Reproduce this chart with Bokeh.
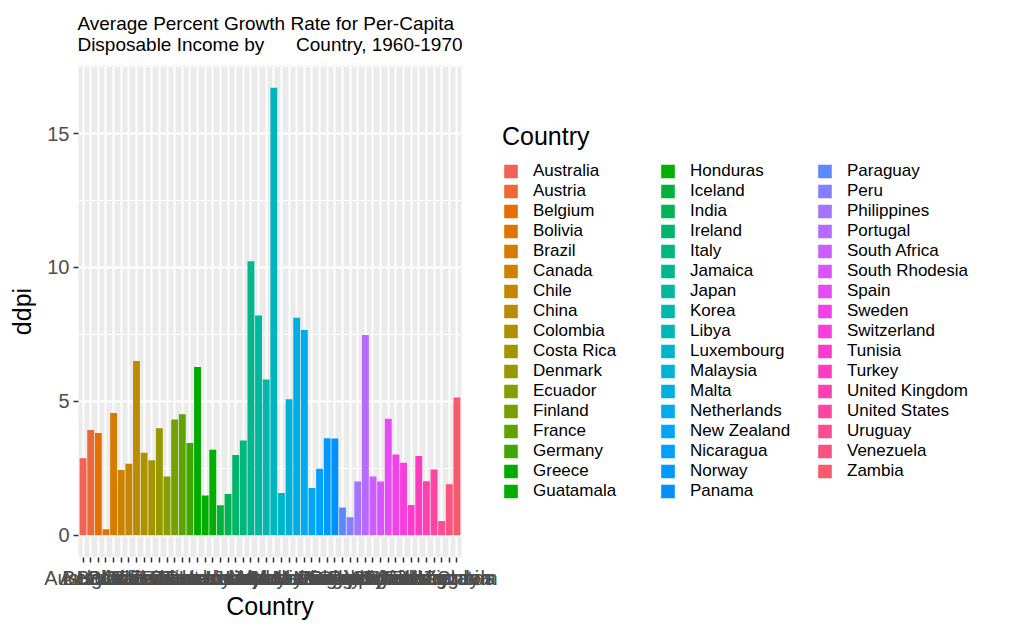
import math
from bokeh.plotting import figure
from bokeh.models import FactorRange, Range1d, SingleIntervalTicker, Legend, LegendItem, ColumnDataSource
from bokeh.embed import file_html
from bokeh.resources import INLINE

countries = ["Australia", "Austria", "Belgium", "Bolivia", "Brazil", "Canada", "Chile", "China",
             "Colombia", "Costa Rica", "Denmark", "Ecuador", "Finland", "France", "Germany", "Greece",
             "Guatamala", "Honduras", "Iceland", "India", "Ireland", "Italy", "Jamaica", "Japan",
             "Korea", "Libya", "Luxembourg", "Malaysia", "Malta", "Netherlands", "New Zealand",
             "Nicaragua", "Norway", "Panama", "Paraguay", "Peru", "Philippines", "Portugal",
             "South Africa", "South Rhodesia", "Spain", "Sweden", "Switzerland", "Tunisia", "Turkey",
             "United Kingdom", "United States", "Uruguay", "Venezuela", "Zambia"]
ddpi = [2.87, 3.93, 3.82, 0.22, 4.56, 2.43, 2.67, 6.51,
        3.08, 2.80, 3.99, 2.19, 4.32, 4.52, 3.44, 6.28,
        1.48, 3.19, 1.12, 1.54, 2.99, 3.54, 10.23, 8.21,
        5.81, 16.71, 1.57, 5.08, 8.12, 7.66, 1.76,
        2.48, 3.62, 3.61, 1.03, 0.67, 2.00, 7.48,
        2.19, 2.00, 4.35, 3.01, 2.70, 1.13, 2.96,
        2.01, 2.45, 0.53, 1.90, 5.14]
title_text = ("Average Percent Growth Rate for Per-Capita\n"
              "Disposable Income by\u00a0\u00a0\u00a0\u00a0\u00a0\u00a0Country, 1960-1970")


def hcl_hex(h, c=115.0, l=60.0):
    Xn, Yn, Zn = 0.95047, 1.0, 1.08883
    den = Xn + 15 * Yn + 3 * Zn
    un, vn = 4 * Xn / den, 9 * Yn / den
    hr = math.radians(h)
    u, v = c * math.cos(hr), c * math.sin(hr)
    Y = Yn * ((l + 16) / 116) ** 3
    up = u / (13 * l) + un
    vp = v / (13 * l) + vn
    X = 9 * Y * up / (4 * vp)
    Z = Y * (12 - 3 * up - 20 * vp) / (4 * vp)
    r = 3.2404542 * X - 1.5371385 * Y - 0.4985314 * Z
    g = -0.9692660 * X + 1.8760108 * Y + 0.0415560 * Z
    b = 0.0556434 * X - 0.2040259 * Y + 1.0572252 * Z

    def gam(t):
        t = max(0.0, min(1.0, t))
        t = t * 12.92 if t <= 0.0031308 else 1.055 * t ** (1 / 2.4) - 0.055
        return int(round(max(0.0, min(1.0, t)) * 255))
    return "#%02X%02X%02X" % (gam(r), gam(g), gam(b))


n = len(countries)
colors = [hcl_hex(15 + 360.0 * i / n) for i in range(n)]

FONT = "Liberation Sans"

src = ColumnDataSource(dict(country=countries, ddpi=ddpi, color=colors))

ymax = max(ddpi)
FW, FH = 383, 492
p = figure(x_range=FactorRange(factors=countries, range_padding=0.1, range_padding_units="absolute"),
           y_range=Range1d(-0.05 * ymax, 1.05 * ymax),
           frame_width=FW, frame_height=FH,
           min_border_left=78, min_border_top=65, min_border_bottom=60, min_border_right=0,
           output_backend="svg", toolbar_location=None,
           background_fill_color="#EBEBEB", border_fill_color="white",
           outline_line_color=None)

p.title.text = title_text
p.title.align = "center"
p.title.text_font = FONT
p.title.text_font_size = "19px"
p.title.text_font_style = "normal"
p.title.text_color = "black"
p.title.text_line_height = 1.0
p.title.standoff = 21

r = p.vbar(x="country", top="ddpi", width=0.9, source=src, fill_color="color", line_color=None)

# grids
p.xgrid.grid_line_color = "white"
p.xgrid.grid_line_width = 2
p.ygrid.grid_line_color = "white"
p.ygrid.grid_line_width = 2
p.ygrid.minor_grid_line_color = "white"
p.ygrid.minor_grid_line_width = 1
p.yaxis.ticker = SingleIntervalTicker(interval=5, num_minor_ticks=2)

for ax in (p.xaxis[0], p.yaxis[0]):
    ax.axis_line_color = None
    ax.major_tick_line_color = "#333333"
    ax.major_tick_line_width = 1.5
    ax.major_tick_out = 5
    ax.major_tick_in = 0
    ax.minor_tick_line_color = None
    ax.major_label_text_font = FONT
    ax.major_label_text_font_size = "20px"
    ax.major_label_text_color = "#4D4D4D"
    ax.axis_label_text_font = FONT
    ax.axis_label_text_font_size = "25px"
    ax.axis_label_text_font_style = "normal"
    ax.axis_label_text_color = "black"

p.xaxis.axis_label = "Country"
p.yaxis.axis_label = "ddpi"
p.xaxis.major_label_standoff = 4
p.yaxis.major_label_standoff = 4
p.xaxis.axis_label_standoff = 0
p.yaxis.axis_label_standoff = 8
p.xaxis.major_label_orientation = "horizontal"

items = [LegendItem(label=c, renderers=[r], index=i) for i, c in enumerate(countries)]
legend = Legend(items=items, ncols=3, orientation="vertical", title="Country",
                title_text_font=FONT, title_text_font_size="25px", title_text_font_style="normal",
                title_text_color="black", title_standoff=10,
                label_text_font=FONT, label_text_font_size="17px", label_text_color="black",
                glyph_width=17, glyph_height=17, label_height=17, label_width=126,
                label_standoff=14, spacing=0,
                border_line_color=None, background_fill_alpha=0, margin=41, padding=0,
                location="center_left")
p.add_layout(legend, "right")

open("out.html", "w").write(file_html(p, INLINE))
